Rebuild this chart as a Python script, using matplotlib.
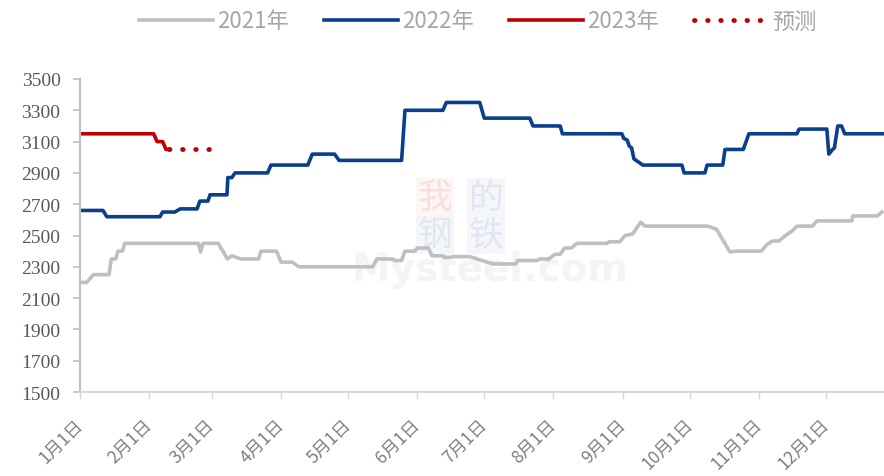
import numpy as np
import matplotlib.pyplot as plt

plt.rcParams['font.family'] = ['Noto Sans CJK SC', 'DejaVu Sans']

# 日序（1月1日 = 0）与价格（元/吨）
days_2021 = [0, 3, 6, 13, 14, 16, 17, 19, 20, 53, 54, 55, 62, 63, 64, 66, 68, 70, 72, 80,
             81, 88, 90, 95, 98, 131, 133, 140, 141, 144, 145.5, 150, 151, 156, 157.6, 162.5,
             163, 165.6, 167, 174.6, 180, 185, 195, 196, 204.6, 206, 209, 209.5, 212.6, 215,
             217, 220, 222.5, 236, 237, 241.7, 244, 247.5, 251, 253, 281, 285, 291, 294, 305,
             307.5, 310, 313, 315.6, 319, 321, 328, 330, 345.6, 346, 357, 359]
vals_2021 = [2200, 2200, 2250, 2250, 2350, 2350, 2400, 2400, 2450, 2450, 2395, 2450, 2450, 2420, 2400, 2350, 2370, 2360, 2350, 2350,
             2400, 2400, 2330, 2330, 2300, 2300, 2350, 2350, 2340, 2340, 2400, 2400, 2420, 2420, 2370, 2370,
             2360, 2360, 2365, 2365, 2340, 2318, 2318, 2340, 2340, 2350, 2350, 2345, 2380, 2380,
             2420, 2420, 2450, 2450, 2460, 2460, 2500, 2510, 2585, 2560, 2560, 2540, 2395, 2400, 2400,
             2440, 2465, 2465, 2497, 2530, 2560, 2560, 2593, 2593, 2625, 2625, 2650]

days_2022 = [0, 10.3, 12, 35.8, 37, 42.5, 44.8, 52.4, 53.7, 57.3, 58.2, 65.8, 66.2, 68, 69.4, 84,
             85.5, 102, 104, 114, 116, 144, 145.5, 162.5, 164, 179, 181, 201.4, 202.8, 215, 216,
             242.6, 243.5, 245, 246, 247, 248, 249, 251, 252, 269.5, 270.5, 279.8, 280.8, 287.8,
             288.8, 297, 299.5, 321, 322, 334.4, 335.3, 337, 337.8, 339.3, 341, 342.4, 360]
vals_2022 = [2660, 2660, 2620, 2620, 2650, 2650, 2670, 2670, 2720, 2720, 2760, 2760, 2870, 2870, 2900, 2900,
             2950, 2950, 3020, 3020, 2980, 2980, 3300, 3300, 3350, 3350, 3250, 3250, 3200, 3200, 3150,
             3150, 3120, 3110, 3070, 3060, 2990, 2980, 2960, 2950, 2950, 2900, 2900, 2950, 2950,
             3050, 3050, 3150, 3150, 3180, 3180, 3020, 3050, 3060, 3200, 3200, 3150, 3150]

days_2023 = [0, 33, 34.5, 37, 38.5, 40]
vals_2023 = [3150, 3150, 3100, 3100, 3050, 3050]

days_pred = [40, 58]
vals_pred = [3050, 3050]

month_days = [0, 31, 59, 90, 120, 151, 181, 212, 243, 273, 304, 334]
month_labels = ['1月1日', '2月1日', '3月1日', '4月1日', '5月1日', '6月1日',
                '7月1日', '8月1日', '9月1日', '10月1日', '11月1日', '12月1日']
y_ticks = list(range(1500, 3501, 200))

fig = plt.figure(figsize=(8.84, 4.77), dpi=100)
ax = fig.add_axes([80 / 884, 1 - 393 / 477, 1 - 80 / 884, 313 / 477])
ax.set_zorder(2)
ax.patch.set_alpha(0)

# 水印
fig.text(490 / 884, 1 - 270 / 477, 'Mysteel.com', color='#f4f4f4', fontsize=28,
         fontweight='bold', ha='center', va='center', zorder=0, family='DejaVu Sans')
for txt, cx, cy, bg, fg in [('我', 435, 198, '#fef6f6', '#f9dede'), ('的', 486, 198, '#f4f6fa', '#e1e6f0'),
                            ('钢', 435, 236, '#f4f6fa', '#e1e6f0'), ('铁', 486, 236, '#f4f6fa', '#e1e6f0')]:
    fig.text(cx / 884, 1 - cy / 477, txt, color=fg, fontsize=25, ha='center', va='center', zorder=0,
             bbox=dict(boxstyle='square,pad=0.05', fc=bg, ec='none'), family='Noto Sans CJK SC')

ax.plot(days_2021, vals_2021, color='#bfbfbf', lw=2.6, label='2021年', solid_joinstyle='round')
ax.plot(days_2022, vals_2022, color='#0a3f8c', lw=2.6, label='2022年', solid_joinstyle='round')
ax.plot(days_2023, vals_2023, color='#c00000', lw=2.6, label='2023年', solid_joinstyle='round')
ax.plot(days_pred, vals_pred, color='#c00000', lw=3.5, linestyle=(0, (0.1, 2.6)),
        dash_capstyle='round', label='预测')

ax.set_xlim(0, 360)
ax.set_ylim(1500, 3500)
ax.set_yticks(y_ticks)
ax.set_yticklabels([str(v) for v in y_ticks], family='Liberation Serif', fontsize=14, color='#595959')
ax.set_xticks(month_days)
ax.set_xticklabels(month_labels, rotation=45, ha='right', va='center', rotation_mode='anchor',
                   fontsize=12.5, color='#7f7f7f')
ax.tick_params(axis='y', length=5, width=1.2, color='#bfbfbf', pad=9)
ax.tick_params(axis='x', length=5, width=1.0, color='#d9d9d9', pad=16)

for s in ['top', 'right']:
    ax.spines[s].set_visible(False)
ax.spines['left'].set_color('#bfbfbf')
ax.spines['left'].set_linewidth(1.5)
ax.spines['bottom'].set_color('#d9d9d9')
ax.spines['bottom'].set_linewidth(1.5)

leg = fig.legend(loc='center', bbox_to_anchor=(478 / 884, 1 - 22 / 477), ncol=4, frameon=False,
                 fontsize=16, handlelength=3.3, handletextpad=0.2, columnspacing=1.6)
for t in leg.get_texts():
    t.set_color('#a6a6a6')

fig.savefig('out.png', dpi=100)
